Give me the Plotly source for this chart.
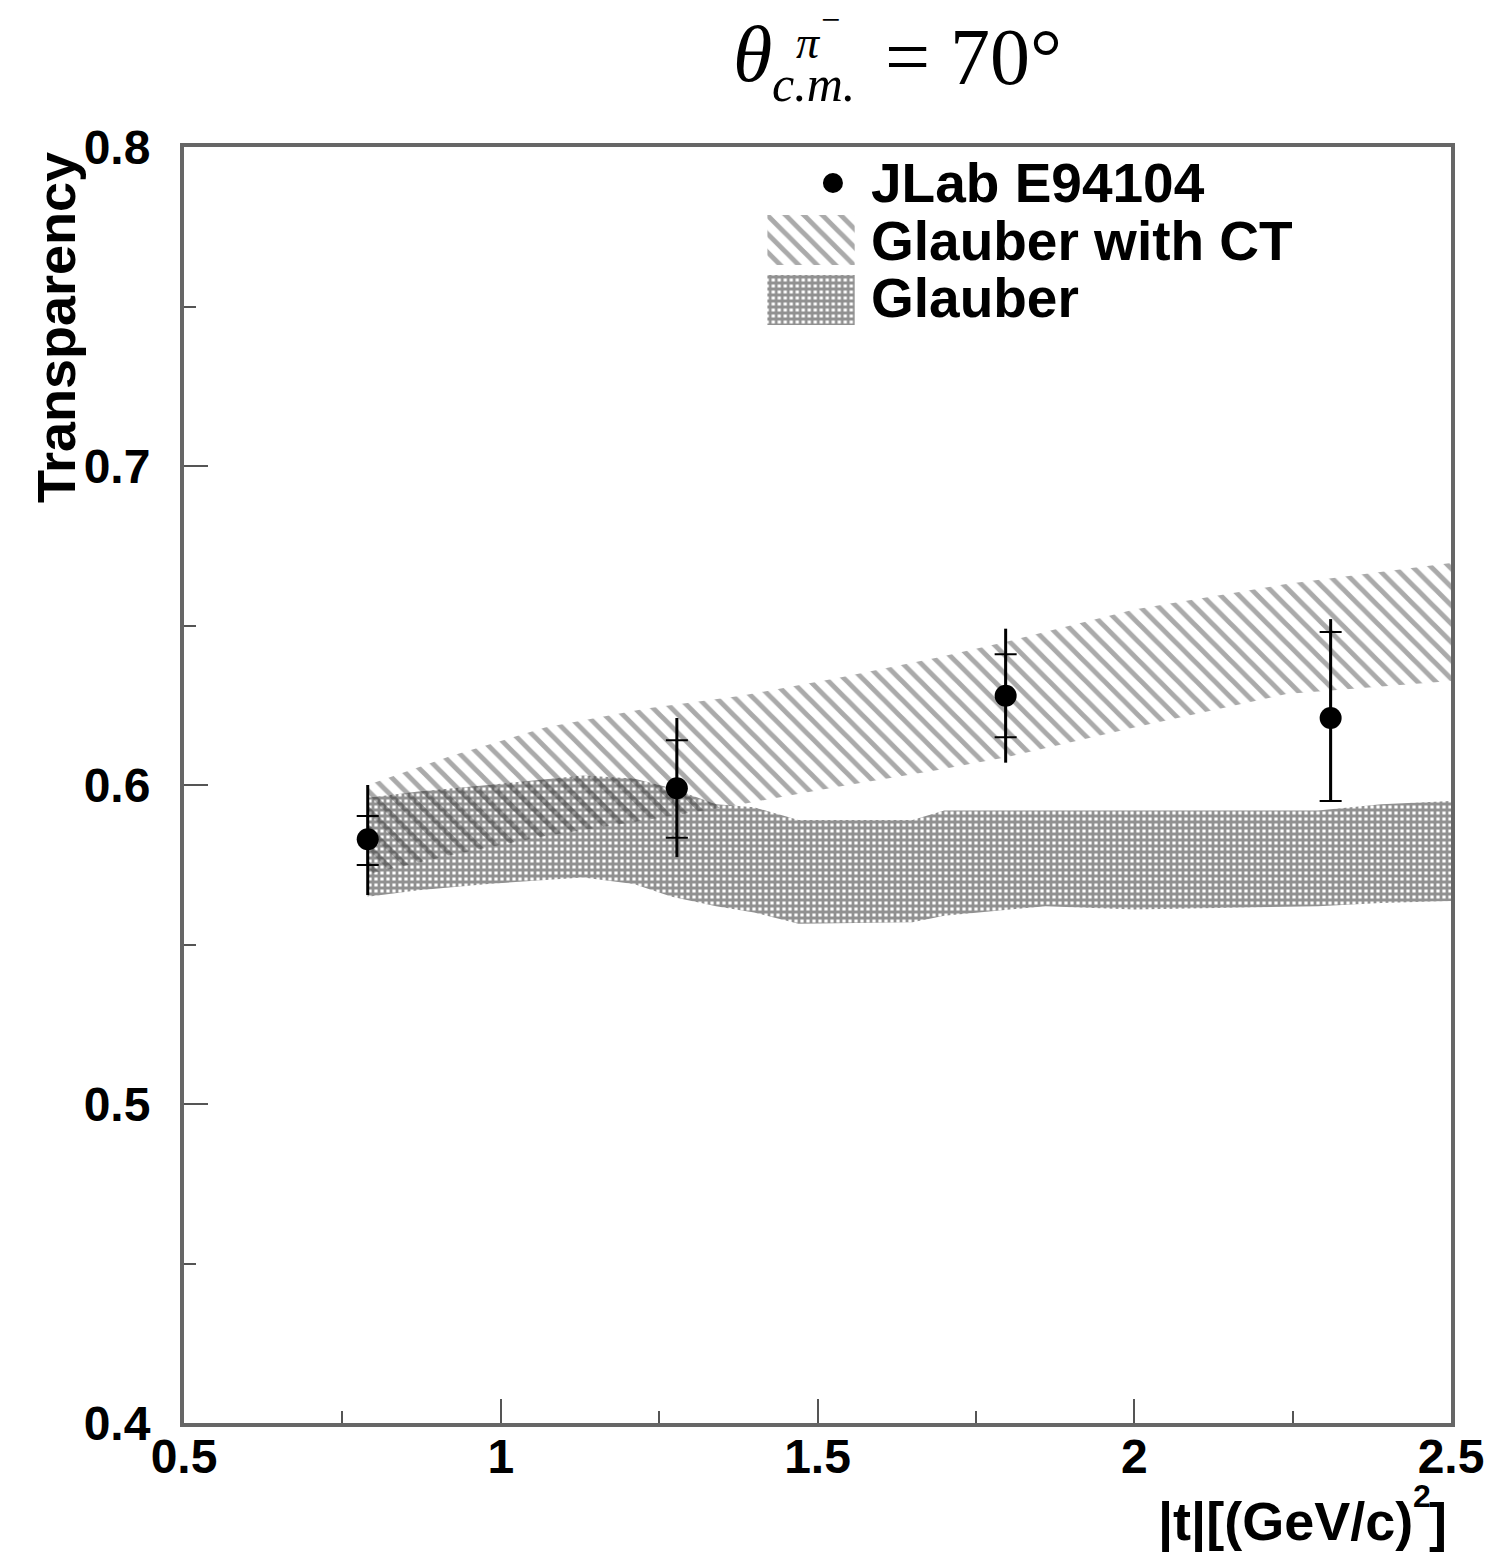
import plotly.graph_objects as go

# ---------------- data ----------------
t_data = [0.79, 1.278, 1.797, 2.31]
T_data = [0.583, 0.599, 0.628, 0.621]
tot_up = [0.017, 0.022, 0.021, 0.031]
tot_dn = [0.0175, 0.0216, 0.021, 0.026]
stat_up = [0.0073, 0.015, 0.013, 0.027]
stat_dn = [0.0081, 0.0155, 0.013, 0.026]

ct_t = [0.79, 0.92, 1.07, 1.23, 1.38, 1.53, 1.69, 1.80, 2.0, 2.24, 2.5]
ct_hi = [0.600, 0.609, 0.618, 0.624, 0.628, 0.6335, 0.640, 0.645, 0.655, 0.663, 0.6696]
ct_lo = [0.572, 0.578, 0.584, 0.589, 0.594, 0.5994, 0.6047, 0.6088, 0.618, 0.6285, 0.6326]

gl_t = [0.79, 0.87, 0.98, 1.13, 1.21, 1.27, 1.34, 1.40, 1.47, 1.65, 1.70, 1.86, 2.0, 2.29, 2.39, 2.5]
gl_hi = [0.596, 0.598, 0.600, 0.603, 0.602, 0.599, 0.594, 0.593, 0.589, 0.589, 0.592, 0.592, 0.592, 0.592, 0.594, 0.595]
gl_lo = [0.565, 0.567, 0.569, 0.571, 0.569, 0.565, 0.562, 0.560, 0.5565, 0.557, 0.559, 0.562, 0.561, 0.562, 0.563, 0.5636]

x_ticks = [0.5, 1, 1.5, 2, 2.5]
x_ticklabels = ["0.5", "1", "1.5", "2", "2.5"]
y_ticks = [0.4, 0.5, 0.6, 0.7, 0.8]
y_ticklabels = ["0.4", "0.5", "0.6", "0.7", "0.8"]

names = ["JLab E94104", "Glauber with CT", "Glauber"]

# ---------------- styling ----------------
W, H = 1496, 1556
L, R, T, B = 184, 1457, 147, 1423

CT_PATTERN = dict(shape="\\", size=13, solidity=0.38, fgcolor="rgba(85,85,85,1)",
                  bgcolor="rgba(0,0,0,0)")
GL_PATTERN = dict(shape="+", size=6, solidity=0.72, fgcolor="rgba(35,35,35,1)",
                  bgcolor="rgba(0,0,0,0)")

fig = go.Figure()

# Glauber with CT band
fig.add_trace(go.Scatter(
    x=ct_t + ct_t[::-1], y=ct_hi + ct_lo[::-1],
    fill="toself", mode="lines", line=dict(width=0, color="rgba(0,0,0,0)"),
    fillcolor="rgba(85,85,85,1)", fillpattern=CT_PATTERN,
    name=names[1], showlegend=False, hoverinfo="skip"))

# Glauber band
fig.add_trace(go.Scatter(
    x=gl_t + gl_t[::-1], y=gl_hi + gl_lo[::-1],
    fill="toself", mode="lines", line=dict(width=0, color="rgba(0,0,0,0)"),
    fillcolor="rgba(35,35,35,1)", fillpattern=GL_PATTERN,
    name=names[2], showlegend=False, hoverinfo="skip"))

# total errors (no caps)
fig.add_trace(go.Scatter(
    x=t_data, y=T_data, mode="markers",
    marker=dict(size=1, color="black", opacity=0),
    error_y=dict(type="data", array=tot_up, arrayminus=tot_dn, width=0,
                 thickness=3, color="black"),
    showlegend=False, hoverinfo="skip"))

# data with stat errors (caps)
fig.add_trace(go.Scatter(
    x=t_data, y=T_data, mode="markers",
    marker=dict(size=22, color="black", symbol="circle"),
    error_y=dict(type="data", array=stat_up, arrayminus=stat_dn, width=11,
                 thickness=2, color="black"),
    name=names[0], showlegend=False))

# ---------------- legend swatches (overlay axes, unit box) ----------------
def xp(px):
    return (px - L) / (R - L)

def yp(py):
    return (B - py) / (B - T)

LEG_X0, LEG_X1, LEG_Y0, LEG_Y1 = 770, 858, 325, 160   # pixel box of swatch column

def ly(py):
    return (LEG_Y0 - py) / (LEG_Y0 - LEG_Y1)

def lx(px):
    return (px - LEG_X0) / (LEG_X1 - LEG_X0)

def box(x0, x1, y0, y1):
    return [x0, x1, x1, x0, x0], [y0, y0, y1, y1, y0]

bx, by = box(0, 1, ly(265), ly(215))
fig.add_trace(go.Scatter(x=bx, y=by, xaxis="x2", yaxis="y2", fill="toself", mode="lines",
                         line=dict(width=0, color="rgba(0,0,0,0)"), fillcolor="rgba(85,85,85,1)",
                         fillpattern=CT_PATTERN, showlegend=False, hoverinfo="skip"))
bx, by = box(0, 1, ly(325), ly(275))
fig.add_trace(go.Scatter(x=bx, y=by, xaxis="x2", yaxis="y2", fill="toself", mode="lines",
                         line=dict(width=0, color="rgba(0,0,0,0)"), fillcolor="rgba(35,35,35,1)",
                         fillpattern=GL_PATTERN, showlegend=False, hoverinfo="skip"))
fig.add_trace(go.Scatter(x=[lx(836)], y=[ly(183)], xaxis="x2", yaxis="y2", mode="markers",
                         marker=dict(size=20, color="black"), showlegend=False, hoverinfo="skip"))

axis_common = dict(
    showline=True, linecolor="#666666", linewidth=4, mirror=True,
    showgrid=False, zeroline=False, ticks="inside", tickcolor="#555555",
    tickwidth=2, ticklen=24,
    tickfont=dict(family="Liberation Sans", size=48, color="black", weight="bold"),
)

fig.update_xaxes(range=[0.5, 2.5], tickvals=x_ticks, ticktext=x_ticklabels,
                 minor=dict(dtick=0.25, ticks="inside", ticklen=12, tickcolor="#555555", tickwidth=2),
                 ticklabelstandoff=-12, **axis_common)
fig.update_yaxes(range=[0.4, 0.8], tickvals=y_ticks, ticktext=y_ticklabels,
                 minor=dict(dtick=0.05, ticks="inside", ticklen=12, tickcolor="#555555", tickwidth=2),
                 ticklabelstandoff=20, **axis_common)

SANS = "Liberation Sans"
ann = []
ann.append(dict(text="<b>Transparency</b>", textangle=-90, x=xp(55), y=yp(150),
                xanchor="center", yanchor="top",
                font=dict(family=SANS, size=54, color="black")))
# x-axis title split so the exponent sits like the original
ann.append(dict(text="<b>]</b>", x=xp(1455), y=yp(1522), xanchor="right", yanchor="middle",
                font=dict(family=SANS, size=54, color="black")))
ann.append(dict(text="<b>2</b>", x=xp(1439), y=yp(1496), xanchor="right", yanchor="middle",
                font=dict(family=SANS, size=32, color="black")))
ann.append(dict(text="<b>|t|[(GeV/c)</b>", x=xp(1421), y=yp(1522), xanchor="right",
                yanchor="middle", font=dict(family=SANS, size=54, color="black")))
# legend labels
for py, nm in zip([183, 241, 298], names):
    ann.append(dict(text="<b>" + nm + "</b>", x=xp(872), y=yp(py), xanchor="left",
                    yanchor="middle",
                    font=dict(family=SANS, size=55, color="black")))
# title pieces
serif = "Liberation Serif"
ann.append(dict(text="<i>θ</i>", x=xp(777), y=yp(54), xanchor="right", yanchor="middle",
                font=dict(family=serif, size=80, color="black")))
ann.append(dict(text="<i>π</i>", x=xp(797), y=yp(42), xanchor="left", yanchor="middle",
                font=dict(family=serif, size=46, color="black")))
ann.append(dict(text="−", x=xp(834), y=yp(20), xanchor="center", yanchor="middle",
                font=dict(family=serif, size=34, color="black")))
ann.append(dict(text="<i>c.m.</i>", x=xp(773), y=yp(84), xanchor="left", yanchor="middle",
                font=dict(family=serif, size=50, color="black")))
ann.append(dict(text="= 70°", x=xp(886), y=yp(57), xanchor="left", yanchor="middle",
                font=dict(family=serif, size=80, color="black")))

for a in ann:
    a.update(xref="paper", yref="paper", showarrow=False)

fig.update_layout(
    width=W, height=H,
    margin=dict(l=L, r=W - R, t=T, b=H - B, pad=0),
    paper_bgcolor="white", plot_bgcolor="rgba(0,0,0,0)",
    annotations=ann,
    showlegend=False,
    xaxis2=dict(domain=[xp(LEG_X0), xp(LEG_X1)], range=[0, 1], anchor="y2",
                visible=False, fixedrange=True),
    yaxis2=dict(domain=[yp(LEG_Y0), yp(LEG_Y1)], range=[0, 1], anchor="x2",
                visible=False, fixedrange=True),
)

fig.write_html("out.html")
